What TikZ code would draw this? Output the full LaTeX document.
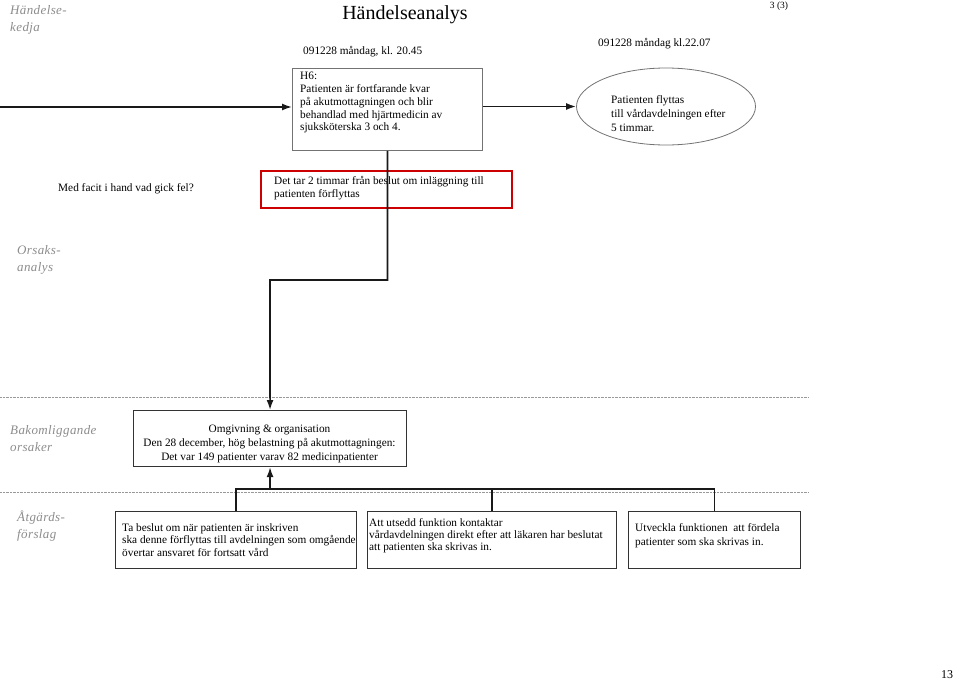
\documentclass[tikz,border=0pt]{standalone}
\usepackage{fontspec}
\setmainfont{Liberation Serif}
\usetikzlibrary{arrows.meta,shapes.geometric}
\begin{document}
\begin{tikzpicture}[x=1pt,y=-1pt,
  txt/.style={font=\fontsize{11.3}{12.8}\selectfont, inner sep=0pt, align=left, anchor=north west},
  lbl/.style={font=\fontsize{13}{17}\selectfont\itshape\addfontfeatures{LetterSpace=3}, text=black!45, inner sep=0pt, align=left, anchor=north west},
  box/.style={draw=black!80, line width=1.1pt, anchor=north west, inner sep=0pt},
  arr/.style={-{Latex[length=10pt,width=7pt]}, line width=1.6pt, draw=black!90},
  con/.style={line width=1.6pt, draw=black!90},
  sep/.style={black!40, line width=1pt, dash pattern=on 0.8pt off 0.6pt}]
\useasboundingbox (0,0) rectangle (960,683);
% labels
\node[lbl] (l1) at (10,5) {Händelse-\\kedja};
\node[lbl] (l2) at (17,245) {Orsaks-\\analys};
\node[lbl] (l3) at (10,425) {Bakomliggande\\orsaker};
\node[lbl] (l4) at (17,511) {Åtgärds-\\förslag};
\node[font=\fontsize{20}{23}\selectfont, inner sep=0pt] (title) at (405,14.5) {Händelseanalys};
\node[font=\fontsize{9.5}{11}\selectfont, inner sep=0pt] (page) at (779,6) {3 (3)};
\node[font=\fontsize{12}{14}\selectfont, inner sep=0pt] (num) at (947,675) {13};
\node[txt, anchor=west] (d1) at (303,51.5) {091228 måndag, kl. 20.45};
\node[txt, anchor=west] (d2) at (598,44) {091228 måndag kl.22.07};
\node[txt, anchor=west] (q) at (58,188.5) {Med facit i hand vad gick fel?};
% top row
\node[box, draw=black!55, line width=0.9pt, minimum width=190pt, minimum height=82pt] (h6) at (292,68) {};
\node[txt] (h6t) at (300,72) {H6:\\Patienten är fortfarande kvar\\på akutmottagningen och blir\\behandlad med hjärtmedicin av\\sjuksköterska 3 och 4.};
\node[draw=black!55, line width=0.8pt, ellipse, minimum width=179pt, minimum height=77pt, inner sep=0pt] (ell) at (666,106.5) {};
\node[txt, font=\fontsize{11.3}{14}\selectfont] (ellt) at (611,95) {Patienten flyttas\\till vårdavdelningen efter\\5 timmar.};
% red box
\node[box, draw=red!80!black, line width=1.5pt, minimum width=251pt, minimum height=37pt] (red) at (260,170) {};
\node[txt, font=\fontsize{11.3}{12.6}\selectfont] (redt) at (274,176.5) {Det tar 2 timmar från beslut om inläggning till\\patienten förflyttas};
% separators
\draw[sep] (0,397) -- (808,397);
\draw[sep] (0,492) -- (808,492);
% omgivning
\node[box, minimum width=273pt, minimum height=56pt] (omg) at (133,410) {};
\node[txt, font=\fontsize{11.3}{14}\selectfont, anchor=center, align=center] (omgt) at (269.5,444) {Omgivning \& organisation\\Den 28 december, hög belastning på akutmottagningen:\\Det var 149 patienter varav 82 medicinpatienter};
% actions
\node[box, minimum width=241pt, minimum height=57pt] (a1) at (115,511) {};
\node[txt] (a1t) at (122,523) {Ta beslut om när patienten är inskriven\\ska denne förflyttas till avdelningen som omgående\\övertar ansvaret för fortsatt vård};
\node[box, minimum width=249pt, minimum height=57pt] (a2) at (367,511) {};
\node[txt, font=\fontsize{11.3}{11.8}\selectfont] (a2t) at (369,518.5) {Att utsedd funktion kontaktar\\vårdavdelningen direkt efter att läkaren har beslutat\\att patienten ska skrivas in.};
\node[box, minimum width=172pt, minimum height=57pt] (a3) at (628,511) {};
\node[txt, font=\fontsize{11.3}{14.5}\selectfont] (a3t) at (635,523) {Utveckla funktionen\ \ att fördela\\patienter som ska skrivas in.};
% connectors
\coordinate (start) at (0,107);
\coordinate (bend) at (270,280);
\coordinate (bar) at (236,489);
\draw[arr] (start) -- (start -| h6.west);
\draw[arr] (h6.east |- ell.west) -- (ell.west);
\draw[arr] (h6.south) |- (bend) -- (omg.north);
\draw[con] (a1.north) -- (a1.north |- bar) -| (a3.north);
\draw[con] (a2.north) -- (a2.north |- bar);
\draw[arr] (omg.south |- bar) -- (omg.south);
\end{tikzpicture}
\end{document}
